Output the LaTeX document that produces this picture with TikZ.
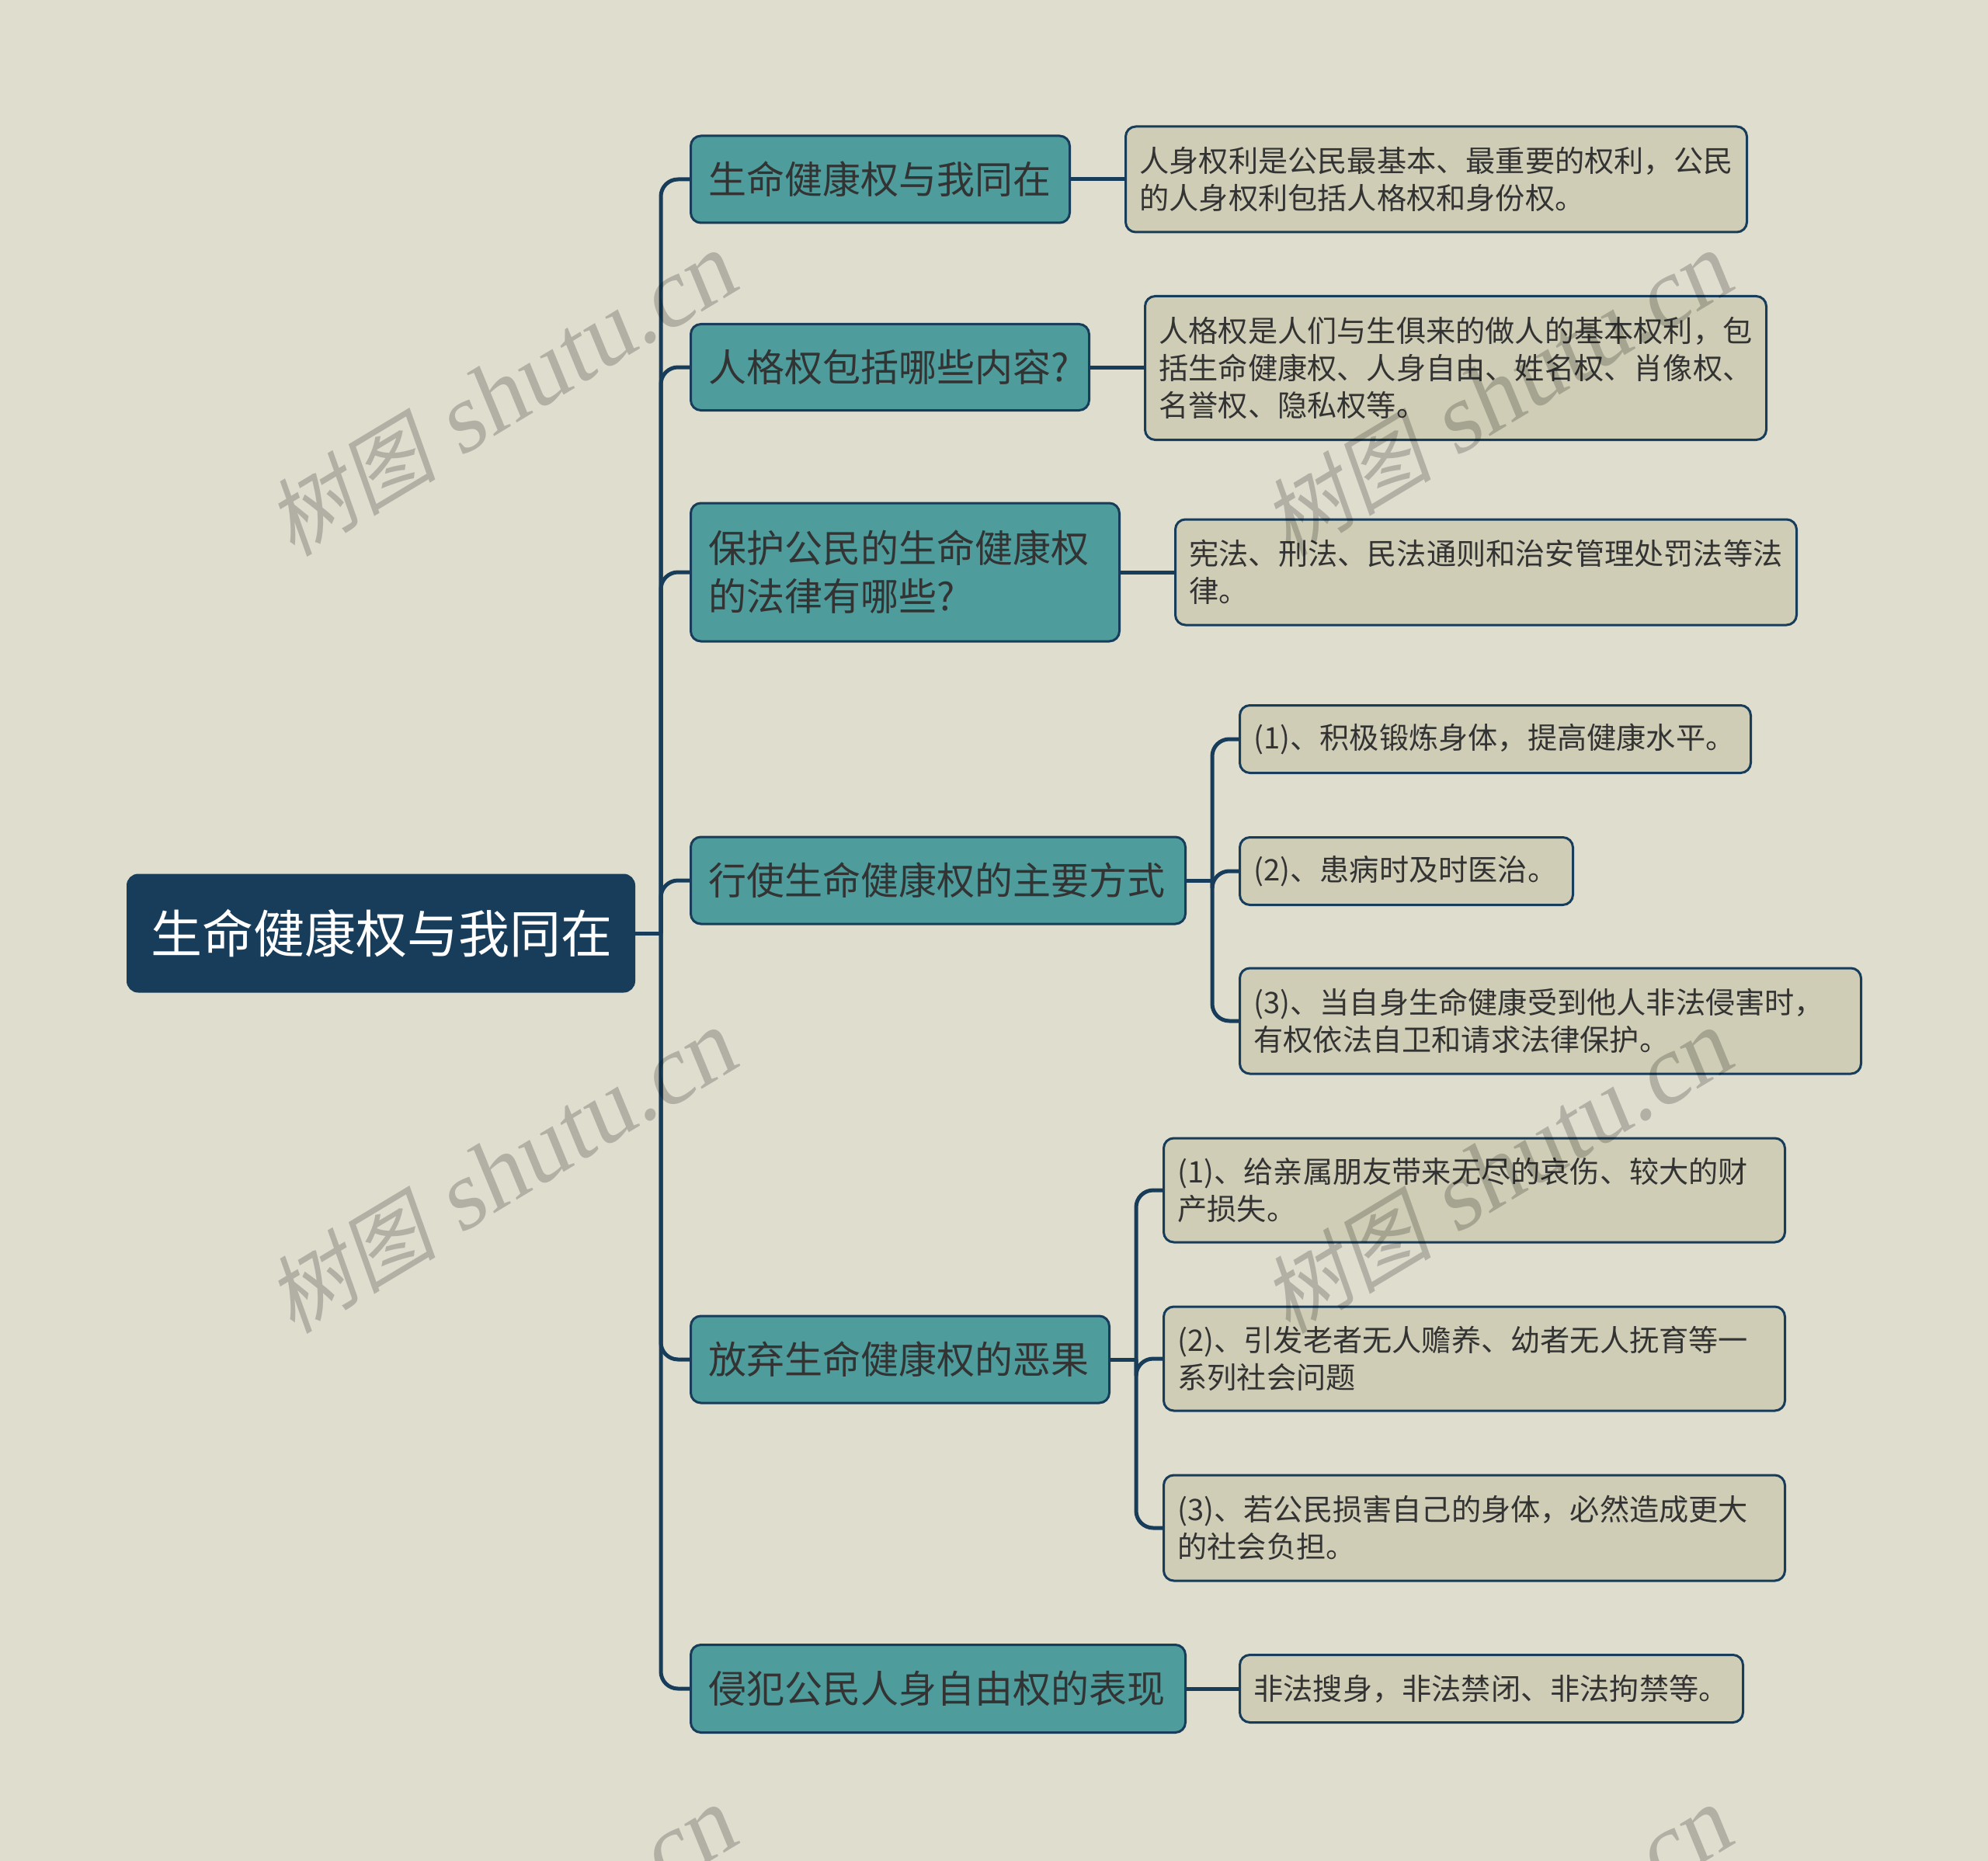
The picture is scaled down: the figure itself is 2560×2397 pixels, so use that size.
\documentclass[tikz,border=0pt]{standalone}
\usepackage{fontspec}
\setmainfont{Noto Sans CJK SC}
\newfontfamily\wmlatin[FakeSlant=0.15]{Liberation Serif}
\newfontfamily\wmcjk[FakeSlant=0.2]{Noto Sans CJK SC}
\usetikzlibrary{calc}
\definecolor{bg}{HTML}{DFDDCE}
\definecolor{navy}{HTML}{173D5B}
\definecolor{tealbox}{HTML}{4E9C9C}
\definecolor{sand}{HTML}{CFCDB5}
\definecolor{txt}{HTML}{333333}
\tikzset{
  rootbox/.style={draw=navy, fill=navy, rounded corners=14, line width=2, text=white,
    font=\fontsize{66}{76}\selectfont, anchor=west, align=left, inner xsep=30, inner ysep=0},
  lonebox/.style={draw=navy, fill=tealbox, rounded corners=13, line width=3, text=txt,
    font=\fontsize{49}{62}\selectfont, anchor=west, align=left, inner xsep=23, inner ysep=0},
  ltwobox/.style={draw=navy, fill=sand, rounded corners=13, line width=3, text=txt,
    font=\fontsize{38.2}{48}\selectfont, anchor=west, align=left, inner xsep=18, inner ysep=0},
  conn/.style={draw=navy, line width=5, rounded corners=22},
  wm/.style={text=black, text opacity=0.2, rotate=31, inner sep=0}
}
\begin{document}
\begin{tikzpicture}[x=1pt,y=-1pt]
\fill[bg] (0,0) rectangle (2560,2397);
\useasboundingbox (0,0) rectangle (2560,2397);
\clip (0,0) rectangle (2560,2397);

% root
\node[rootbox, text width=593, minimum height=151] (root) at (163,1202) {生命健康权与我同在};

% level 1
\node[lonebox, text width=442, minimum height=112] (n1) at (888,231) {生命健康权与我同在};
\node[lonebox, text width=467, minimum height=111] (n2) at (888,473) {人格权包括哪些内容?};
\node[lonebox, text width=506, minimum height=178] (n3) at (888,737) {保护公民的生命健康权\\的法律有哪些?};
\node[lonebox, text width=591, minimum height=112] (n4) at (888,1134) {行使生命健康权的主要方式};
\node[lonebox, text width=493, minimum height=112] (n5) at (888,1751) {放弃生命健康权的恶果};
\node[lonebox, text width=591, minimum height=113] (n6) at (888,2175) {侵犯公民人身自由权的表现};

% level 2
\node[ltwobox, text width=764, minimum height=136] (a) at (1448,231) {人身权利是公民最基本、最重要的权利，公民\\的人身权利包括人格权和身份权。};
\node[ltwobox, text width=764, minimum height=185] (b) at (1473,474) {人格权是人们与生俱来的做人的基本权利，包\\括生命健康权、人身自由、姓名权、肖像权、\\名誉权、隐私权等。};
\node[ltwobox, text width=764, minimum height=136] (c) at (1512,737) {宪法、刑法、民法通则和治安管理处罚法等法\\律。};
\node[ltwobox, text width=622, minimum height=87] (d1) at (1595,952) {(1)、积极锻炼身体，提高健康水平。};
\node[ltwobox, text width=393, minimum height=87] (d2) at (1595,1122) {(2)、患病时及时医治。};
\node[ltwobox, text width=764, minimum height=136] (d3) at (1595,1315) {(3)、当自身生命健康受到他人非法侵害时，\\有权依法自卫和请求法律保护。};
\node[ltwobox, text width=764, minimum height=134] (e1) at (1497,1533) {(1)、给亲属朋友带来无尽的哀伤、较大的财\\产损失。};
\node[ltwobox, text width=764, minimum height=134] (e2) at (1497,1750) {(2)、引发老者无人赡养、幼者无人抚育等一\\系列社会问题};
\node[ltwobox, text width=764, minimum height=136] (e3) at (1497,1968) {(3)、若公民损害自己的身体，必然造成更大\\的社会负担。};
\node[ltwobox, text width=612, minimum height=87] (f) at (1595,2175) {非法搜身，非法禁闭、非法拘禁等。};

% connectors
\coordinate (T) at (851,0);
\draw[conn] (root.east) -- (T |- root.east);
\foreach \c in {n1,n2,n3,n4,n5,n6}{
  \draw[conn] (T |- root.east) |- (\c.west);
}
\draw[conn] (n1.east) -- (n1.east -| a.west);
\draw[conn] (n2.east) -- (n2.east -| b.west);
\draw[conn] (n3.east) -- (n3.east -| c.west);
\draw[conn] (n6.east) -- (n6.east -| f.west);
\coordinate (S4) at (1561,0);
\draw[conn] (n4.east) -- (S4 |- n4.east);
\foreach \c in {d1,d2,d3}{
  \draw[conn] (S4 |- n4.east) |- (\c.west);
}
\coordinate (S5) at (1463,0);
\draw[conn] (n5.east) -- (S5 |- n5.east);
\foreach \c in {e1,e2,e3}{
  \draw[conn] (S5 |- n5.east) |- (\c.west);
}

% watermarks
\foreach \wx/\wy [count=\i] in {645/509, 1927/509, 645/1510, 1927/1510, 645/2511, 1927/2511}{
  \node[wm] (wm\i) at (\wx,\wy) {{\wmcjk\fontsize{110}{120}\selectfont 树图}{\wmlatin\fontsize{126}{130}\selectfont\ shutu.cn}};
}
\end{tikzpicture}
\end{document}
